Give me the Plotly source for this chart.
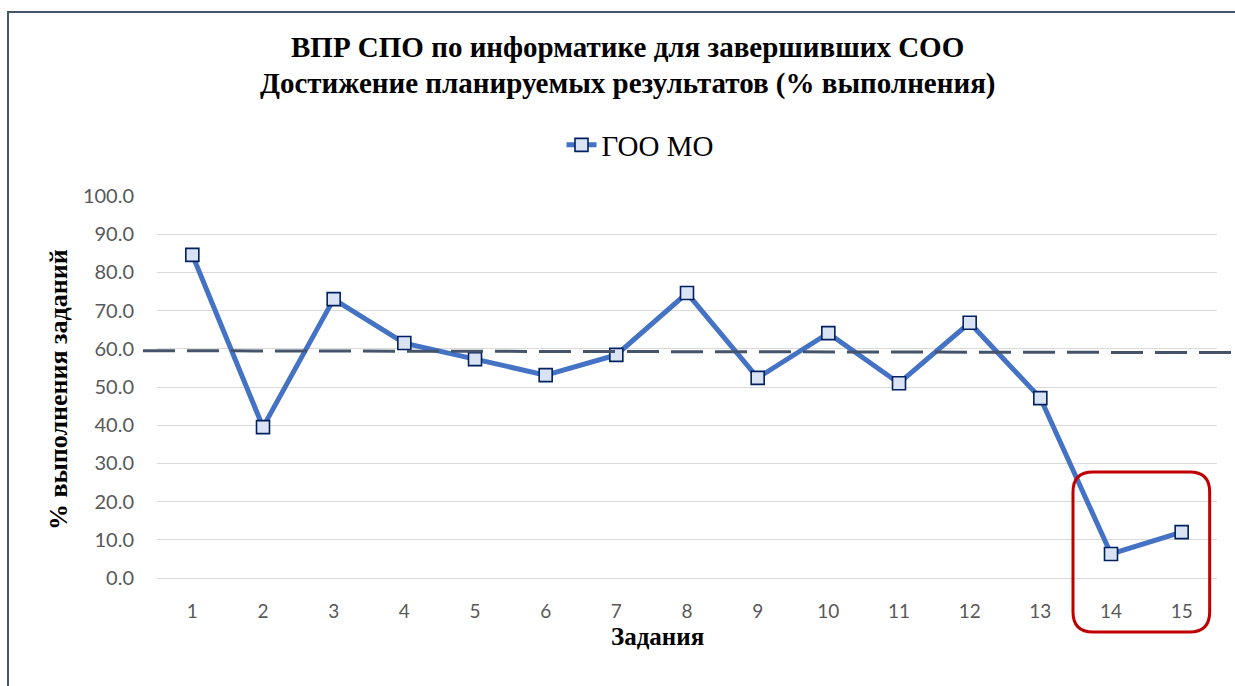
import plotly.graph_objects as go

# ---- data ----
tasks = list(range(1, 16))
values = [84.6, 39.5, 73.0, 61.5, 57.3, 53.1, 58.4, 74.6, 52.4, 64.1, 51.0, 66.8, 47.1, 6.3, 12.0]
series_name = "ГОО МО"
ref_line = [59.5, 59.0]          # dashed reference level (left, right)
highlight = [14, 15]             # highlighted tasks
y_ticks = [0, 10, 20, 30, 40, 50, 60, 70, 80, 90, 100]
title_lines = ["ВПР СПО по информатике для завершивших СОО",
               "Достижение планируемых результатов (% выполнения)"]
y_title = "% выполнения заданий"
x_title = "Задания"

# ---- layout constants (pixels) ----
W, H = 1235, 686
L, R, T, B = 157, 1217, 196, 578
pw, ph = R - L, B - T


def px(x):
    return (x - L) / pw


def py(y):
    return (B - y) / ph


fig = go.Figure()
fig.add_trace(go.Scatter(
    x=tasks, y=values, name=series_name, mode="lines+markers",
    line=dict(color="#4472C4", width=5),
    marker=dict(symbol="square", size=13, color="#DAE3F3",
                line=dict(color="#002060", width=1.6)),
))

serif = "Liberation Serif, Times New Roman, serif"
sans = "Lato, Open Sans, sans-serif"

shapes = []
# dashed reference line
shapes.append(dict(type="line", xref="paper", yref="paper",
                   x0=px(143), x1=px(1240),
                   y0=ref_line[0] / 100, y1=ref_line[1] / 100,
                   line=dict(color="#44546A", width=3, dash="32px,12px"),
                   layer="above"))
# outer border
shapes.append(dict(type="path", xref="paper", yref="paper",
                   path=f"M {px(8)},{py(700)} L {px(8)},{py(12)} L {px(1250)},{py(12)}",
                   line=dict(color="#44546A", width=2)))
# highlight rounded rectangle around tasks 14-15
step = pw / len(tasks)
hx0 = L + (highlight[0] - 1) * step + step / 2 - 38
hx1 = L + (highlight[-1] - 1) * step + step / 2 + 28
hy0, hy1 = 472, 632
r = 20
x0, x1 = px(hx0), px(hx1)
y0, y1 = py(hy1), py(hy0)
rx, ry = r / pw, r / ph
path = (f"M {x0 + rx},{y1} L {x1 - rx},{y1} Q {x1},{y1} {x1},{y1 - ry} "
        f"L {x1},{y0 + ry} Q {x1},{y0} {x1 - rx},{y0} "
        f"L {x0 + rx},{y0} Q {x0},{y0} {x0},{y0 + ry} "
        f"L {x0},{y1 - ry} Q {x0},{y1} {x0 + rx},{y1} Z")
shapes.append(dict(type="path", xref="paper", yref="paper", path=path,
                   line=dict(color="#C00000", width=3), layer="above"))

annotations = [
    dict(text=f"<b>{title_lines[0]}</b>", xref="paper", yref="paper",
         x=px(627), y=py(47), showarrow=False, xanchor="center", yanchor="middle",
         font=dict(family=serif, size=29, color="#000000")),
    dict(text=f"<b>{title_lines[1]}</b>", xref="paper", yref="paper",
         x=px(627), y=py(84), showarrow=False, xanchor="center", yanchor="middle",
         font=dict(family=serif, size=29, color="#000000")),
    dict(text=f"<b>{y_title}</b>", xref="paper", yref="paper",
         x=px(58), y=py(390), showarrow=False, textangle=-90,
         xanchor="center", yanchor="middle",
         font=dict(family=serif, size=26, color="#000000")),
    dict(text=f"<b>{x_title}</b>", xref="paper", yref="paper",
         x=px(657), y=py(636), showarrow=False, xanchor="center", yanchor="middle",
         font=dict(family=serif, size=25, color="#000000")),
]

fig.update_layout(
    width=W, height=H,
    margin=dict(l=L, r=W - R, t=T, b=H - B, pad=0),
    paper_bgcolor="white", plot_bgcolor="white",
    shapes=shapes, annotations=annotations,
    showlegend=True,
    legend=dict(orientation="h", x=px(640), y=py(145), xanchor="center", yanchor="middle",
                font=dict(family=serif, size=29, color="#000000"),
                bgcolor="rgba(0,0,0,0)"),
    xaxis=dict(range=[0.5, 15.5], tickmode="array", tickvals=tasks,
               ticktext=[str(t) for t in tasks], showgrid=False, zeroline=False,
               showline=False, ticks="", ticklabelstandoff=20,
               tickfont=dict(family=sans, size=19, color="#595959")),
    yaxis=dict(range=[0, 100], tickmode="array", tickvals=y_ticks,
               ticktext=[f"{v:.1f}" for v in y_ticks], showgrid=True,
               gridcolor="#D9D9D9", gridwidth=1.3, zeroline=True,
               zerolinecolor="#D9D9D9", zerolinewidth=1.3, showline=False,
               ticks="", ticklabelstandoff=22,
               tickfont=dict(family=sans, size=20, color="#595959")),
)

fig.write_html("out.html", post_script="document.body.style.margin='0';",
               config={"displayModeBar": False})
